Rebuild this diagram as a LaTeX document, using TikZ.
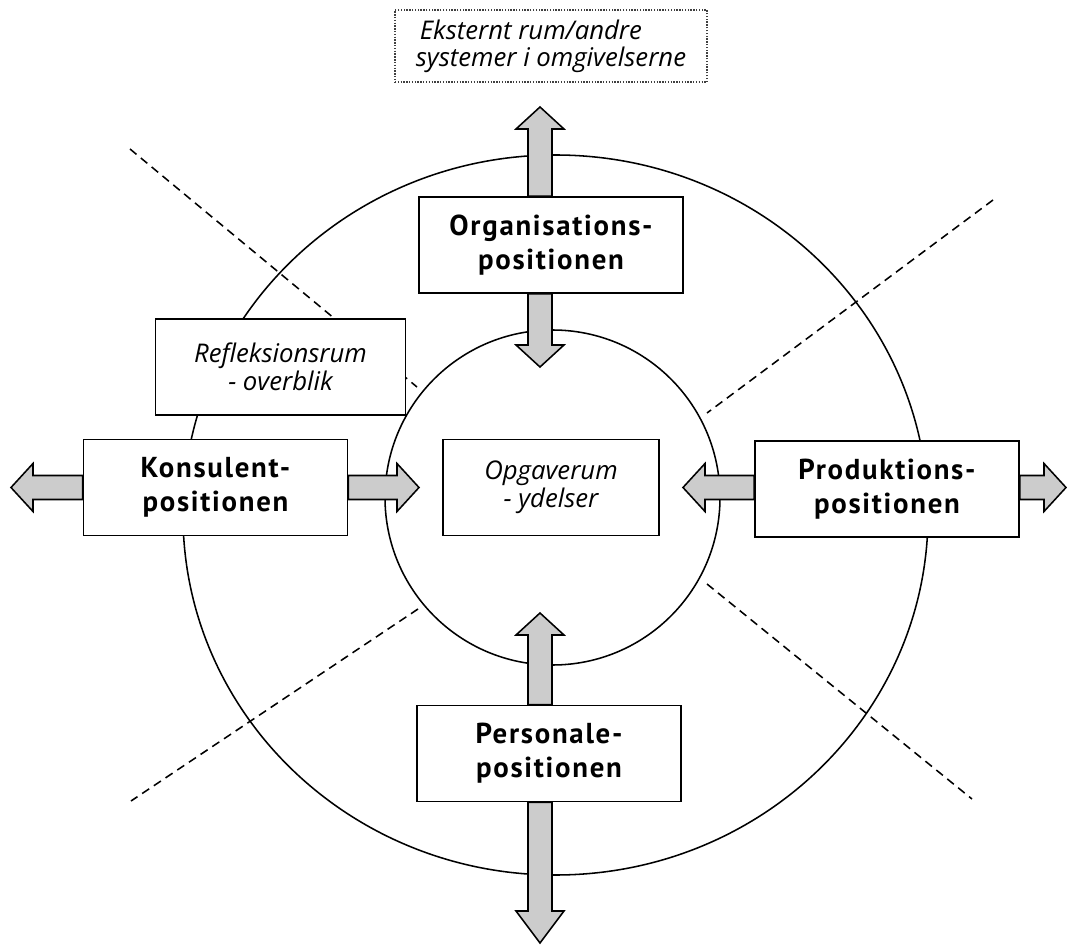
\documentclass[tikz,border=0pt]{standalone}
\usepackage{fontspec}
\setmainfont{Open Sans}
\newfontfamily\posfont{PT Sans}[LetterSpace=6.0]
\usetikzlibrary{calc}

\tikzset{
  posbox/.style={draw, line width=1.3pt, fill=white, align=center,
    minimum width=6.6cm, minimum height=2.4cm,
    font=\posfont\bfseries\fontsize{20.5}{24}\selectfont},
  roombox/.style={draw, line width=1.1pt, fill=white, align=center,
    font=\itshape\fontsize{18.3}{20}\selectfont},
  blockarr/.style={draw, line width=1.1pt, fill=black!20, line join=miter},
  divider/.style={line width=1.1pt, dash pattern=on 6pt off 4pt}
}

% block arrow from #2 to #3, head length #1
\newcommand{\blockarrow}[3][0.55cm]{
  \coordinate (as) at (#2);
  \coordinate (ah) at ($(#3)!#1!(as)$);
  \draw[blockarr] ($(as)!0.3cm!90:(#3)$) -- ($(ah)!0.3cm!90:(#3)$)
    -- ($(ah)!0.6cm!90:(#3)$) -- (#3) -- ($(ah)!0.6cm!-90:(#3)$)
    -- ($(ah)!0.3cm!-90:(#3)$) -- ($(as)!0.3cm!-90:(#3)$) -- cycle;
}

\begin{document}
\begin{tikzpicture}[x=0.025cm, y=-0.025cm]
\useasboundingbox (0,0) rectangle (1067,945);

% circles
\draw[line width=1.1pt] (555.5,515) ellipse [x radius=372.5, y radius=360];
\draw[line width=1.1pt] (552.5,497.5) circle [radius=167.5];

% dividing lines
\draw[divider] (130,149) -- (417,387);
\draw[divider] (993,200) -- (707,413);
\draw[divider] (418,609) -- (131,801);
\draw[divider] (707,584) -- (972,799);

% rooms
\node[roombox, draw=black!75, line width=0.8pt, dash pattern=on 1pt off 1pt,
  minimum width=7.8cm, minimum height=1.8cm,
  align=left, font=\itshape\fontsize{18.3}{19.2}\selectfont] (ext) at (551,46)
  {\hspace*{0.1cm}Eksternt rum/andre\\systemer i omgivelserne};
\node[roombox, minimum width=6.25cm, minimum height=2.4cm] (refl) at (280.5,367)
  {Refleksionsrum\\- overblik};
\node[roombox, minimum width=5.4cm, minimum height=2.4cm] (opg) at (551,487.5)
  {Opgaverum\\- ydelser};

% positions
\node[posbox] (org) at (551,245) {Organisations-\\positionen};
\node[posbox] (kon) at (215.5,487.5) {Konsulent-\\positionen};
\node[posbox] (pro) at (887,489) {Produktions-\\positionen};
\node[posbox] (per) at (549,753.5) {Personale-\\positionen};

% arrow tips
\coordinate (orgUp) at (540,107);
\coordinate (orgDown) at (540,367);
\coordinate (konLeft) at (11,487.5);
\coordinate (konRight) at (419,487.5);
\coordinate (proLeft) at (683,487.5);
\coordinate (proRight) at (1066,487.5);
\coordinate (perUp) at (540,613);
\coordinate (perDown) at (540,943);

\blockarrow{org.north -| orgUp}{orgUp}
\blockarrow{org.south -| orgDown}{orgDown}
\blockarrow{kon.west |- konLeft}{konLeft}
\blockarrow{kon.east |- konRight}{konRight}
\blockarrow{pro.west |- proLeft}{proLeft}
\blockarrow{pro.east |- proRight}{proRight}
\blockarrow{per.north -| perUp}{perUp}
\blockarrow[0.8cm]{per.south -| perDown}{perDown}
\end{tikzpicture}
\end{document}
